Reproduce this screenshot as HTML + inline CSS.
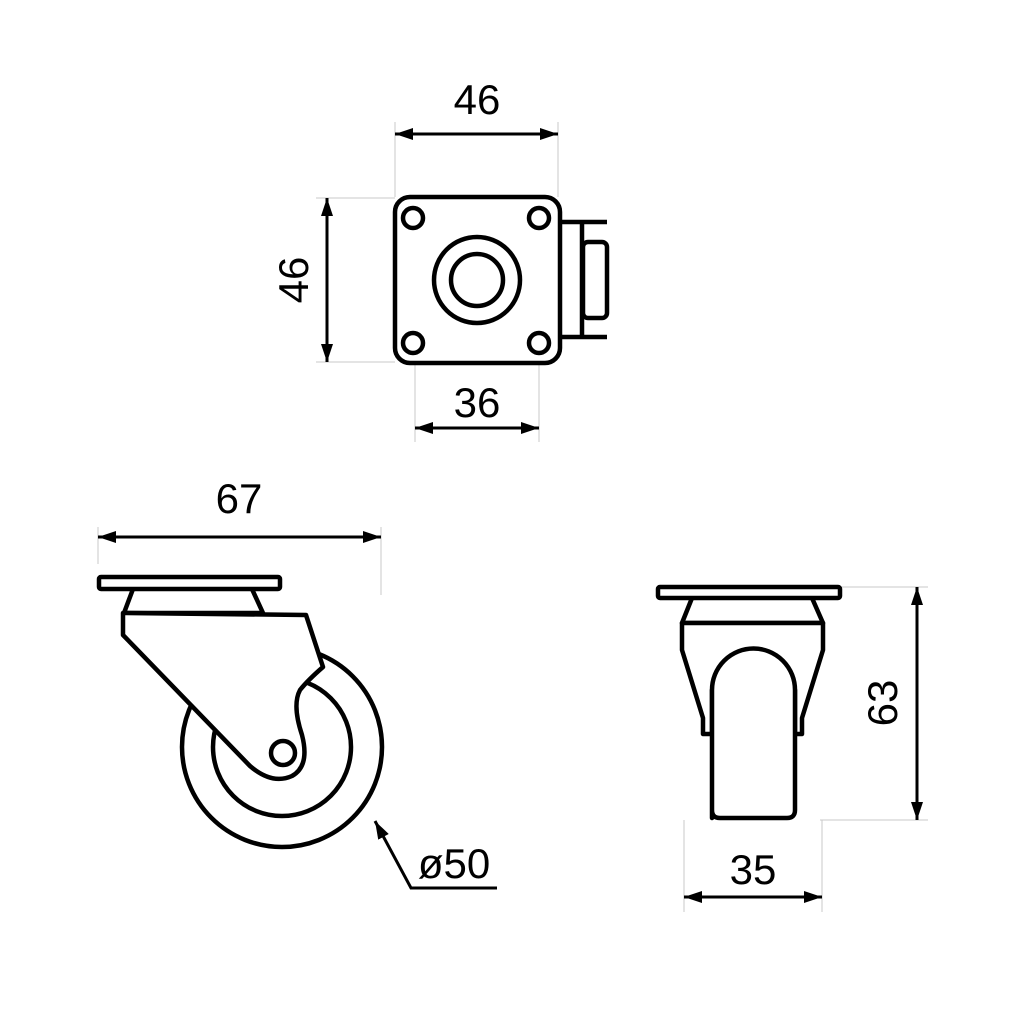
<!DOCTYPE html>
<html><head><meta charset="utf-8"><style>
html,body{margin:0;padding:0;background:#fff;}
svg{display:block;}
text{font-family:"Liberation Sans",sans-serif;font-size:42px;fill:#000;}
</style></head><body>
<svg width="1024" height="1024" viewBox="0 0 1024 1024" xmlns="http://www.w3.org/2000/svg">
<defs>
<marker id="a" viewBox="0 0 18 12" refX="18" refY="6" markerWidth="18" markerHeight="12" markerUnits="userSpaceOnUse" orient="auto-start-reverse"><path d="M0,0 L18,6 L0,12 z" fill="#000"/></marker>
</defs>
<g stroke="#c8c8c8" stroke-width="1" fill="none">
<line x1="395" y1="122" x2="395" y2="197"/><line x1="558" y1="122" x2="558" y2="197"/>
<line x1="316" y1="198" x2="395" y2="198"/><line x1="316" y1="362" x2="395" y2="362"/>
<line x1="415" y1="365" x2="415" y2="442"/><line x1="539" y1="365" x2="539" y2="442"/>
<line x1="98" y1="527" x2="98" y2="564"/><line x1="381" y1="527" x2="381" y2="595"/>
<line x1="840" y1="587" x2="928" y2="587"/><line x1="820" y1="820" x2="928" y2="820"/>
<line x1="684" y1="820" x2="684" y2="912"/><line x1="822" y1="820" x2="822" y2="912"/>
</g>
<g stroke="#000" stroke-width="3" fill="none">
<line x1="395" y1="134" x2="558" y2="134" marker-start="url(#a)" marker-end="url(#a)"/>
<line x1="327" y1="198" x2="327" y2="362" marker-start="url(#a)" marker-end="url(#a)"/>
<line x1="415" y1="428" x2="539" y2="428" marker-start="url(#a)" marker-end="url(#a)"/>
<line x1="98" y1="537" x2="381" y2="537" marker-start="url(#a)" marker-end="url(#a)"/>
<line x1="917" y1="587" x2="917" y2="820" marker-start="url(#a)" marker-end="url(#a)"/>
<line x1="684" y1="897" x2="822" y2="897" marker-start="url(#a)" marker-end="url(#a)"/>
<polyline points="497,888 411,888 375,821" marker-end="url(#a)"/>
</g>
<text x="477" y="114" text-anchor="middle">46</text>
<text transform="translate(308,280) rotate(-90)" text-anchor="middle">46</text>
<text x="477" y="417" text-anchor="middle">36</text>
<text x="239" y="513" text-anchor="middle">67</text>
<text x="454" y="878" text-anchor="middle">ø50</text>
<text transform="translate(897,703) rotate(-90)" text-anchor="middle">63</text>
<text x="753" y="884" text-anchor="middle">35</text>

<g stroke="#000" stroke-width="4.5" fill="#fff" stroke-linejoin="round">
<!-- top view -->
<path d="M560,222 H607 M560,337 H607 M582,222 V337" fill="none"/>
<rect x="583" y="242" width="24" height="76" rx="5"/>
<rect x="395" y="197" width="165" height="166" rx="15"/>
<circle cx="413" cy="218" r="10"/><circle cx="539" cy="218" r="10"/>
<circle cx="413" cy="343" r="10"/><circle cx="539" cy="343" r="10"/>
<circle cx="477" cy="280" r="43"/><circle cx="477" cy="280" r="26"/>

<!-- side view -->
<circle cx="282" cy="747" r="100"/>
<circle cx="282" cy="747" r="69"/>
<path d="M133,589 L124,613 H263 L252,589"/>
<rect x="99" y="577" width="181" height="12" rx="2"/>
<path d="M123,613 V635 L250,766 Q272,785 292,776 Q310,766 302,735 Q292,705 300,690 Q308,680 323,667 L306,615 Z"/>
<circle cx="283" cy="753" r="12"/>

<!-- front view -->
<path d="M692,598 L682,623 H823 L812,598"/>
<rect x="658" y="587" width="182" height="11" rx="2"/>
<path d="M682,623 V650 L703,718 V734 H712 V690 H795 V734 H802 V718 L823,650 V623 Z"/>
<path d="M712,818 V690 A41.5,41.5 0 0 1 795,690 V810 Q795,818 787,818 H720 Q712,818 712,810 Z"/>
</g>
</svg>
</body></html>
